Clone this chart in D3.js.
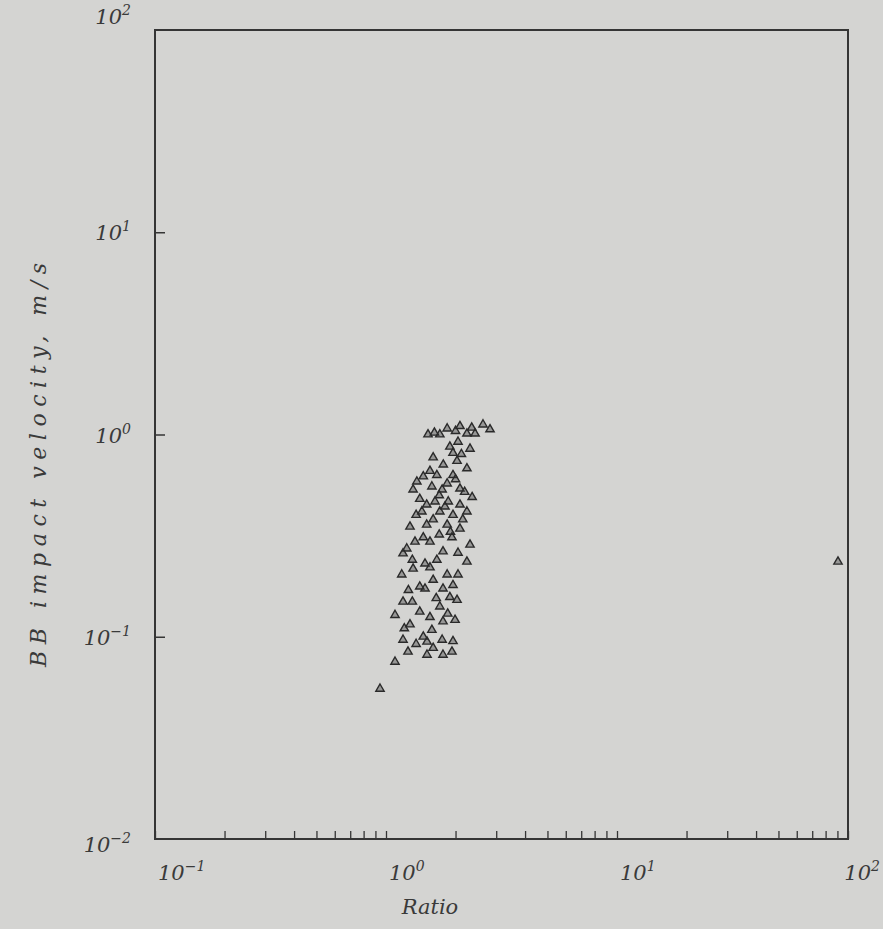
<!DOCTYPE html>
<html>
<head>
<meta charset="utf-8">
<script src="https://cdn.jsdelivr.net/npm/d3@7"></script>
<style>
  html, body { margin: 0; padding: 0; background: #d4d4d2; }
  svg { display: block; }
  text { font-family: "DejaVu Serif", "Liberation Serif", serif; font-style: italic; fill: #3a3a3a; }
</style>
</head>
<body>
<svg id="chart" width="883" height="929"></svg>
<script>
// Measured samples: ratio vs. BB impact velocity (m/s)
const ratio = [
  1.52, 1.71, 1.84, 2.09, 2.24, 2.43, 2.63, 2.82, 2.05, 2.31,
  2.03, 1.77, 2.24, 1.66, 1.95, 1.36, 1.31, 1.58, 1.84, 2.09,
  2.36, 1.63, 1.86, 2.09, 1.43, 1.71, 1.95, 2.24, 1.27, 1.50,
  1.84, 2.09, 1.23, 1.55, 1.185, 1.475, 1.765, 2.24, 1.17, 1.31,
  1.60, 1.84, 2.05, 1.185, 1.475, 1.765, 2.03, 1.094, 1.40, 1.71,
  1.99, 1.27, 1.58, 1.765, 1.185, 1.505, 1.75, 1.245, 1.505, 1.765,
  1.93, 1.094, 0.942, 1.89, 1.60, 1.40, 1.93, 1.335, 1.66, 1.89,
  2.31, 1.40, 1.55, 1.30, 2.19, 1.75,
  1.45, 1.55, 2.00, 1.70, 1.50, 1.80, 2.15, 1.60, 1.35, 1.90,
  1.45, 1.70, 2.05, 1.30, 1.55, 1.95, 1.25, 1.65, 1.85, 1.20,
  1.45, 1.95, 1.60, 1.35, 2.00, 1.62, 2.35, 2.12, 1.95,
  90.5
];
const velocity = [
  1.00, 1.00, 1.07, 1.10, 1.01, 1.01, 1.12, 1.06, 0.92, 0.85,
  0.74, 0.71, 0.68, 0.63, 0.63, 0.585, 0.534, 0.553, 0.572, 0.54,
  0.49, 0.466, 0.466, 0.45, 0.416, 0.416, 0.40, 0.416, 0.35, 0.358,
  0.358, 0.342, 0.273, 0.295, 0.258, 0.23, 0.264, 0.235, 0.203, 0.217,
  0.191, 0.203, 0.203, 0.149, 0.173, 0.173, 0.152, 0.128, 0.133, 0.141,
  0.121, 0.115, 0.108, 0.119, 0.0966, 0.0945, 0.0966, 0.0843, 0.0814, 0.0814,
  0.0843, 0.0752, 0.0553, 0.87, 0.77, 0.48, 0.31, 0.295, 0.24, 0.157,
  0.285, 0.177, 0.125, 0.149, 0.52, 0.534,
  0.62, 0.66, 0.60, 0.50, 0.45, 0.44, 0.38, 0.38, 0.40, 0.33,
  0.31, 0.32, 0.26, 0.24, 0.22, 0.18, 0.17, 0.155, 0.13, 0.11,
  0.10, 0.095, 0.088, 0.092, 1.04, 1.02, 1.08, 0.80, 0.81,
  0.235
];

// Decade tick values and their exponents
const xDecades = [0.1, 1, 10, 100];
const xExponents = ["\u22121", "0", "1", "2"];
const yDecades = [0.01, 0.1, 1, 10, 100];
const yExponents = ["\u22122", "\u22121", "0", "1", "2"];

const xLabel = "Ratio";
const yLabel = "BB impact velocity, m/s";

const margin = { left: 155, right: 35, top: 30, bottom: 90 };
const W = 883, H = 929;
const innerW = W - margin.left - margin.right;
const innerH = H - margin.top - margin.bottom;

const x = d3.scaleLog().domain([0.1, 100]).range([0, innerW]);
const y = d3.scaleLog().domain([0.01, 100]).range([innerH, 0]);

const svg = d3.select("#chart");
const g = svg.append("g").attr("transform", `translate(${margin.left},${margin.top})`);

const ink = "#353535";

// Bottom axis: inward log ticks (minor at 2..9 of each decade)
const xAxis = d3.axisBottom(x)
  .tickValues(x.ticks())
  .tickSize(-8)
  .tickFormat("");
const gx = g.append("g").attr("transform", `translate(0,${innerH})`).call(xAxis);
gx.select(".domain").remove();
gx.selectAll(".tick line").attr("stroke", ink).attr("stroke-width", 1.3);

// Left axis: inward decade ticks only
const yAxis = d3.axisLeft(y)
  .tickValues(yDecades.slice(1, -1))
  .tickSize(-10)
  .tickFormat("");
const gy = g.append("g").call(yAxis);
gy.select(".domain").remove();
gy.selectAll(".tick line").attr("stroke", ink).attr("stroke-width", 1.5);

// Frame
g.append("rect")
  .attr("x", 0).attr("y", 0)
  .attr("width", innerW).attr("height", innerH)
  .attr("fill", "none")
  .attr("stroke", ink)
  .attr("stroke-width", 2);

// Tick labels with superscript exponents
function powerLabel(sel, exp) {
  sel.append("tspan").text("10");
  sel.append("tspan").attr("dy", -9).attr("font-size", 14).text(exp);
}

xDecades.forEach((v, i) => {
  const last = i === xDecades.length - 1;
  const t = g.append("text")
    .attr("x", last ? x(v) + 32 : x(v) + 3)
    .attr("y", innerH + 41)
    .attr("text-anchor", last ? "end" : "start")
    .attr("font-size", 21);
  powerLabel(t, xExponents[i]);
});

yDecades.forEach((v, i) => {
  let dy = 8;
  if (i === yDecades.length - 1) dy = -6;
  if (i === 0) dy = 13;
  const t = g.append("text")
    .attr("x", -24)
    .attr("y", y(v) + dy)
    .attr("text-anchor", "end")
    .attr("font-size", 21);
  powerLabel(t, yExponents[i]);
});

// Axis titles
svg.append("text")
  .attr("x", margin.left + x(1.55))
  .attr("y", 914)
  .attr("text-anchor", "middle")
  .attr("font-size", 21)
  .text(xLabel);

svg.append("text")
  .attr("transform", `translate(46,465) rotate(-90)`)
  .attr("text-anchor", "middle")
  .attr("font-size", 22)
  .attr("textLength", 404)
  .attr("lengthAdjust", "spacing")
  .text(yLabel);

// Triangle markers
const points = ratio.map((r, i) => ({ r, v: velocity[i] }));
const tri = d3.symbol().type(d3.symbolTriangle).size(30);
g.append("g").selectAll("path")
  .data(points)
  .join("path")
  .attr("d", tri)
  .attr("transform", d => `translate(${x(d.r)},${y(d.v)})`)
  .attr("fill", "rgba(60,60,60,0.4)")
  .attr("stroke", "#2a2a2a")
  .attr("stroke-width", 1.4);
</script>
</body>
</html>
